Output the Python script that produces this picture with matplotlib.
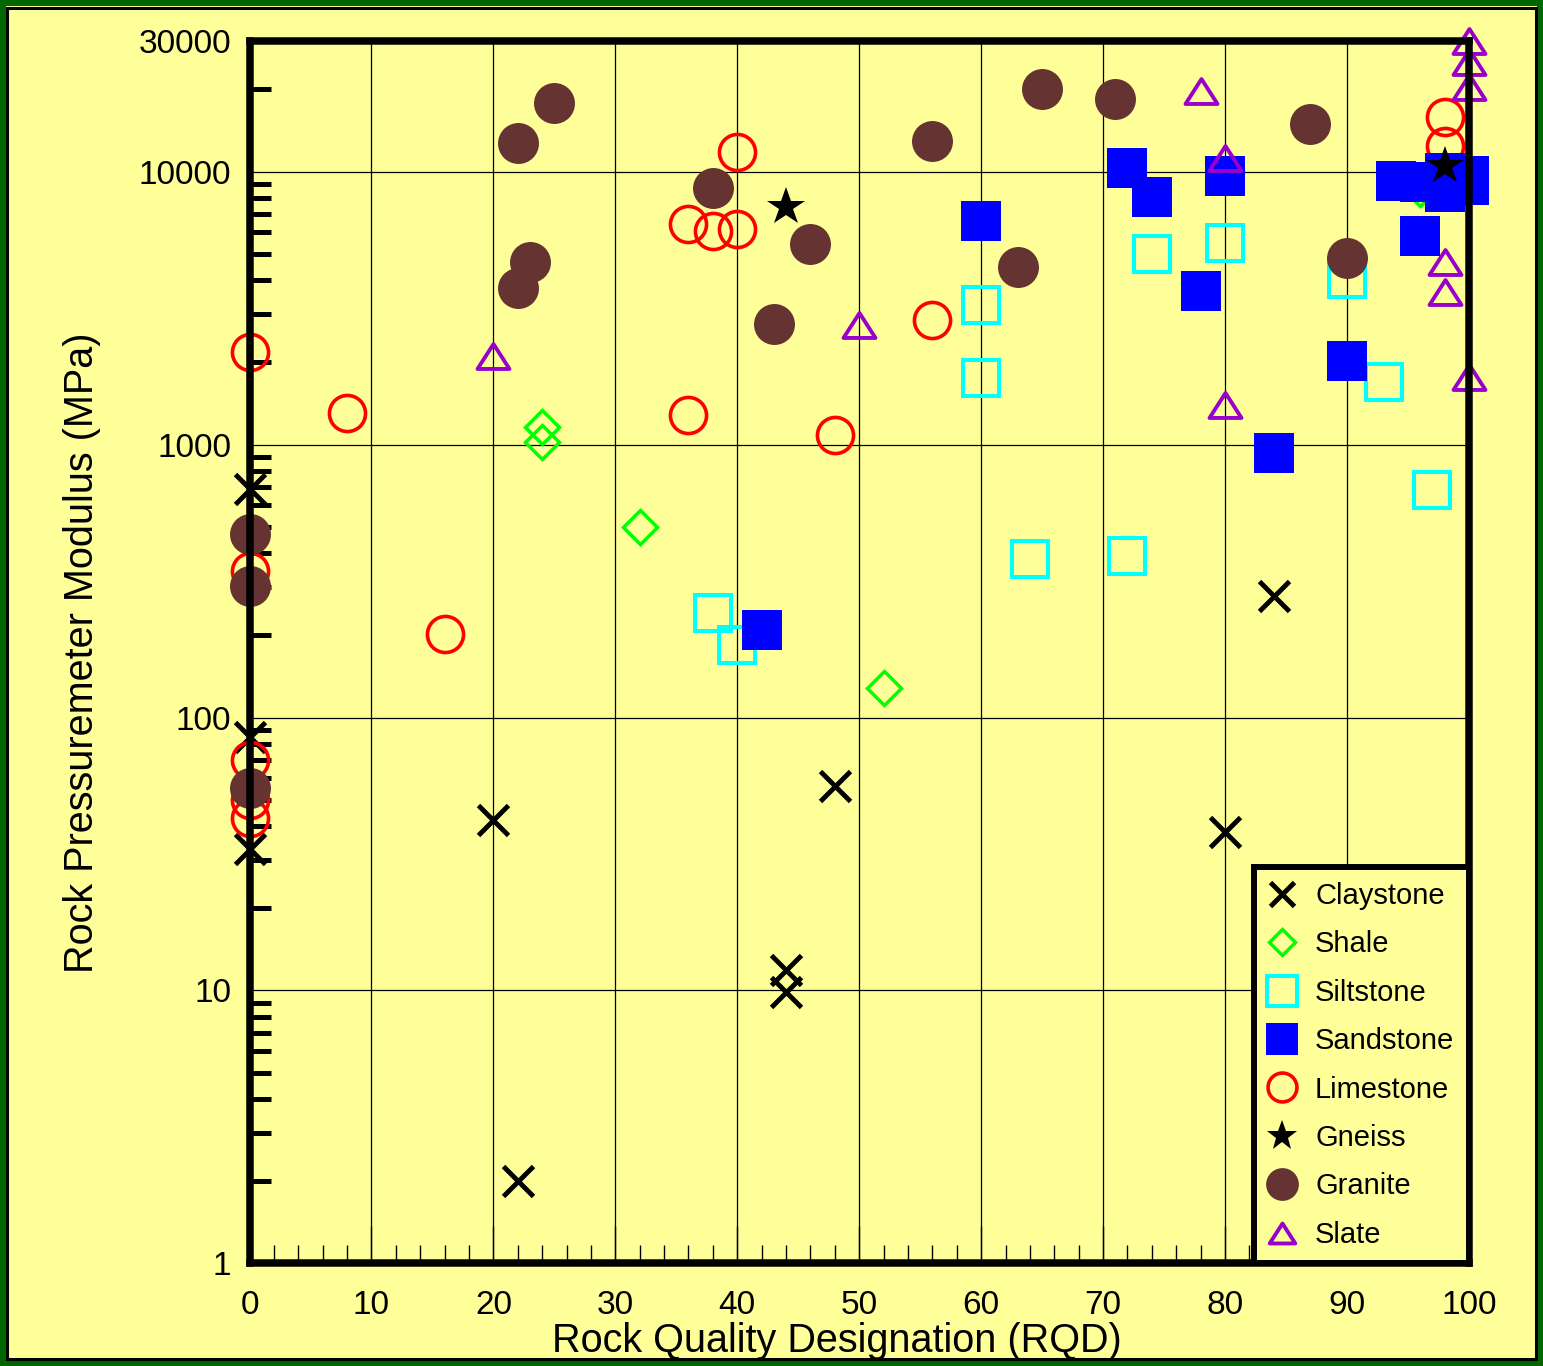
import matplotlib
matplotlib.use('Agg')
import matplotlib.pyplot as plt
from matplotlib.ticker import FixedLocator, MultipleLocator, NullFormatter
from matplotlib.patches import Rectangle
from matplotlib.path import Path

plt.rcParams['font.family'] = ['Liberation Sans', 'DejaVu Sans']

# RQD (%) and pressuremeter modulus (MPa) for each rock type
claystone_rqd = [0, 0, 0, 20, 22, 44, 44, 48, 80, 84]
claystone_mod = [690, 85, 33, 42, 2.0, 11.9, 9.9, 56, 38, 278]

shale_rqd = [24, 24, 32, 52, 96]
shale_mod = [1160, 1020, 500, 128, 8600]

siltstone_rqd = [38, 40, 60, 60, 64, 72, 74, 80, 90, 93, 97]
siltstone_mod = [241, 184, 3250, 1750, 380, 390, 5000, 5480, 4050, 1700, 680]

sandstone_rqd = [42, 60, 72, 74, 78, 80, 84, 90, 94, 96, 96, 98, 98, 100, 100]
sandstone_mod = [210, 6600, 10350, 8090, 3660, 9670, 930, 2025, 9270, 9200,
                 5820, 9900, 8400, 9600, 8900]

limestone_rqd = [0, 0, 0, 0, 0, 8, 16, 36, 36, 38, 40, 40, 48, 56, 98, 98]
limestone_mod = [2190, 343, 70, 50, 43, 1306, 202, 1282, 6450, 6070, 6180,
                 11840, 1084, 2865, 15900, 12450]

gneiss_rqd = [44, 98]
gneiss_mod = [7440, 10500]

granite_rqd = [0, 0, 0, 22, 22, 23, 25, 38, 43, 46, 56, 63, 65, 71, 87, 90]
granite_mod = [469, 303, 55, 12770, 3750, 4680, 17900, 8730, 2770, 5450,
               13000, 4480, 20000, 18400, 14900, 4840]

slate_rqd = [20, 50, 78, 80, 80, 98, 98, 100, 100, 100, 100]
slate_mod = [2110, 2750, 19800, 11250, 1400, 4680, 3630, 30000, 25300, 20500, 1770]

x_ticks = [0, 10, 20, 30, 40, 50, 60, 70, 80, 90, 100]
y_ticks = [1, 10, 100, 1000, 10000, 30000]
y_ticklabels = ['1', '10', '100', '1000', '10000', '30000']

bg = '#FFFF99'
# slightly flattened open triangle
tri = Path([(-1, -0.78), (1, -0.78), (0, 0.78), (-1, -0.78)],
           [Path.MOVETO, Path.LINETO, Path.LINETO, Path.CLOSEPOLY])

fig = plt.figure(figsize=(15.43, 13.66), dpi=100, facecolor=bg)
ax = fig.add_axes([0.1617, 0.0751, 0.7903, 0.8946], facecolor=bg)

# drawing order decides which symbols sit on top
ax.plot(claystone_rqd, claystone_mod, ls='none', marker='x', ms=22, mew=3.5,
        color='black', clip_on=False, label='Claystone')
ax.plot(shale_rqd, shale_mod, ls='none', marker='D', ms=17, mew=2.5,
        mfc='none', mec='#00FF00', clip_on=False, label='Shale')
ax.plot(siltstone_rqd, siltstone_mod, ls='none', marker='s', ms=26.5, mew=2.9,
        mfc='none', mec='#00FFFF', clip_on=False, label='Siltstone')
ax.plot(limestone_rqd, limestone_mod, ls='none', marker='o', ms=26, mew=2.6,
        mfc='none', mec='#FF0000', clip_on=False, label='Limestone')
ax.plot(sandstone_rqd, sandstone_mod, ls='none', marker='s', ms=29.5, mew=0,
        color='#0000FF', clip_on=False, label='Sandstone')
ax.plot(gneiss_rqd, gneiss_mod, ls='none', marker='*', ms=29, mew=0,
        color='black', clip_on=False, label='Gneiss')
ax.plot(granite_rqd, granite_mod, ls='none', marker='o', ms=29.5, mew=0,
        color='#663333', clip_on=False, label='Granite')
ax.plot(slate_rqd, slate_mod, ls='none', marker=tri, ms=23, mew=2.8,
        mfc='none', mec='#9900CC', clip_on=False, label='Slate')

ax.set_xlim(0, 100)
ax.set_yscale('log')
ax.set_ylim(1, 30000)

ax.xaxis.set_major_locator(FixedLocator(x_ticks))
ax.xaxis.set_minor_locator(MultipleLocator(2))
ax.yaxis.set_major_locator(FixedLocator(y_ticks))
ax.set_yticklabels(y_ticklabels)
y_minor = [m * 10 ** k for k in range(0, 5) for m in range(2, 10) if m * 10 ** k < 30000]
ax.yaxis.set_minor_locator(FixedLocator(y_minor))
ax.yaxis.set_minor_formatter(NullFormatter())

ax.tick_params(axis='x', which='major', direction='in', length=27, width=1,
               labelsize=24, pad=19, top=False)
ax.tick_params(axis='x', which='minor', direction='in', length=13, width=1, top=False)
ax.tick_params(axis='y', which='major', direction='in', length=0,
               labelsize=24, pad=13, right=False)
ax.tick_params(axis='y', which='minor', direction='in', length=15, width=3.6,
               right=False)

ax.grid(True, which='major', color='black', lw=0.9)

for s in ax.spines.values():
    s.set_linewidth(5.4)
    s.set_color('black')

ax.set_xlabel('Rock Quality Designation (RQD)', fontsize=28.5)
ax.set_ylabel('Rock Pressuremeter Modulus (MPa)', fontsize=28.5)
ax.xaxis.set_label_coords(0.482, -0.048)
ax.yaxis.set_label_coords(-0.122, 0.5)

handles, labels = ax.get_legend_handles_labels()
order = ['Claystone', 'Shale', 'Siltstone', 'Sandstone', 'Limestone',
         'Gneiss', 'Granite', 'Slate']
hmap = dict(zip(labels, handles))
leg = ax.legend([hmap[k] for k in order], order, loc='lower right',
                bbox_to_anchor=(1, 0), borderaxespad=0, fontsize=21,
                markerscale=0.8, handlelength=0.95, handletextpad=0.65,
                labelspacing=0.7, borderpad=0.5, fancybox=False,
                framealpha=1, facecolor=bg, edgecolor='black')
leg.get_frame().set_linewidth(4.3)
leg.set_zorder(5)

# outer frame, kept beneath the axes and their labels
fig.patches.append(Rectangle((0, 0), 1, 1, transform=fig.transFigure, fill=False,
                             edgecolor='#006600', lw=8.6, zorder=-1))
fig.patches.append(Rectangle((7.5 / 1543, 7.5 / 1366), 1 - 15 / 1543, 1 - 15 / 1366,
                             transform=fig.transFigure, fill=False,
                             edgecolor='black', lw=2.2, zorder=-1))

fig.savefig('out.png', dpi=100, facecolor=bg)
